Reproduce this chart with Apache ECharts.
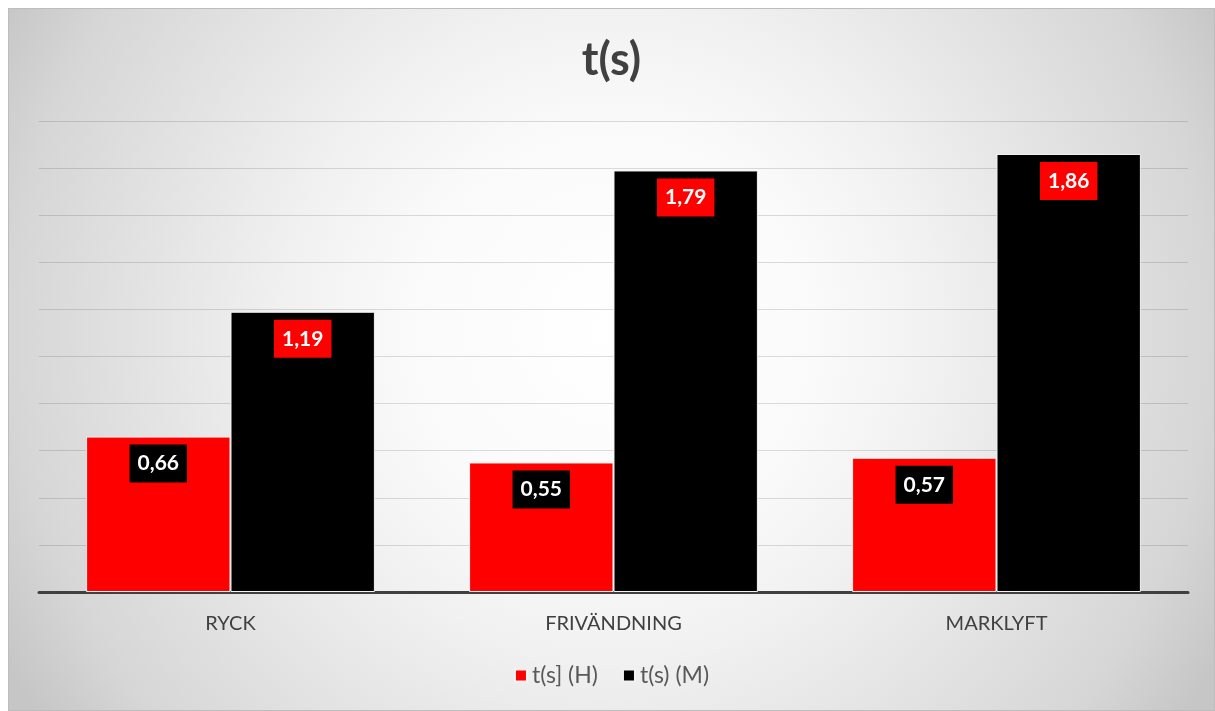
<!DOCTYPE html>
<html>
<head>
<meta charset="utf-8">
<script src="https://cdn.jsdelivr.net/npm/echarts@6/dist/echarts.min.js"></script>
<style>
  html, body { margin: 0; padding: 0; background: #ffffff; }
  #chart {
    position: absolute; left: 8px; top: 8px; width: 1207px; height: 703px;
    box-sizing: border-box; border: 1px solid #bdbdbd;
    background: radial-gradient(circle 690px at 50% 46%, #ffffff 0%, #fafafa 30%, #f1f1f1 47%, #d6d6d6 87%, #c6c6c6 100%);
  }
</style>
</head>
<body>
<div id="chart"></div>
<script>
// Timing per lift, two groups
const categories = ['RYCK', 'FRIVÄNDNING', 'MARKLYFT'];
const seriesNames = ['t(s] (H)', 't(s) (M)'];
const valuesH = [0.66, 0.55, 0.57];
const valuesM = [1.19, 1.79, 1.86];

const font = 'Lato, "Open Sans", sans-serif';

function fmt(v) { return v.toFixed(2).replace('.', ','); }

function barLabel(bg) {
  return {
    show: true,
    position: 'insideTop',
    distance: 8,
    formatter: p => fmt(p.value),
    color: '#ffffff',
    fontFamily: font,
    fontWeight: 'bold',
    fontSize: 21,
    lineHeight: 22,
    backgroundColor: bg,
    padding: [8, 8, 8, 8]
  };
}

const chart = echarts.init(document.getElementById('chart'));
chart.setOption({
  backgroundColor: 'transparent',
  animation: false,
  title: {
    text: 't(s)',
    left: 'center',
    top: 24,
    textStyle: { fontFamily: font, fontWeight: 'bold', fontSize: 45, color: '#404040' }
  },
  legend: {
    bottom: 18,
    left: 'center',
    itemWidth: 12,
    itemHeight: 12,
    itemGap: 24,
    icon: 'rect',
    textStyle: { fontFamily: font, fontSize: 23, color: '#595959' },
    data: seriesNames
  },
  grid: { left: 30, right: 26, top: 112, bottom: 118 },
  xAxis: {
    type: 'category',
    data: categories,
    axisLine: { lineStyle: { color: '#404040', width: 3 } },
    axisTick: { show: false },
    axisLabel: { fontFamily: font, fontSize: 20, color: '#404040', margin: 22 }
  },
  yAxis: {
    type: 'value',
    min: 0,
    max: 2,
    interval: 0.2,
    axisLabel: { show: false },
    axisLine: { show: false },
    axisTick: { show: false },
    splitLine: { lineStyle: { color: 'rgba(0,0,0,0.13)', width: 1 } }
  },
  series: [
    {
      name: seriesNames[0],
      type: 'bar',
      data: valuesH,
      barGap: '0%',
      barCategoryGap: '24.6%',
      itemStyle: { color: '#ff0000', borderColor: '#f2f2f2', borderWidth: 1 },
      label: barLabel('#000000')
    },
    {
      name: seriesNames[1],
      type: 'bar',
      data: valuesM,
      barGap: '0%',
      barCategoryGap: '24.6%',
      itemStyle: { color: '#000000', borderColor: '#f2f2f2', borderWidth: 1 },
      label: barLabel('#ff0000')
    }
  ]
});
</script>
</body>
</html>
